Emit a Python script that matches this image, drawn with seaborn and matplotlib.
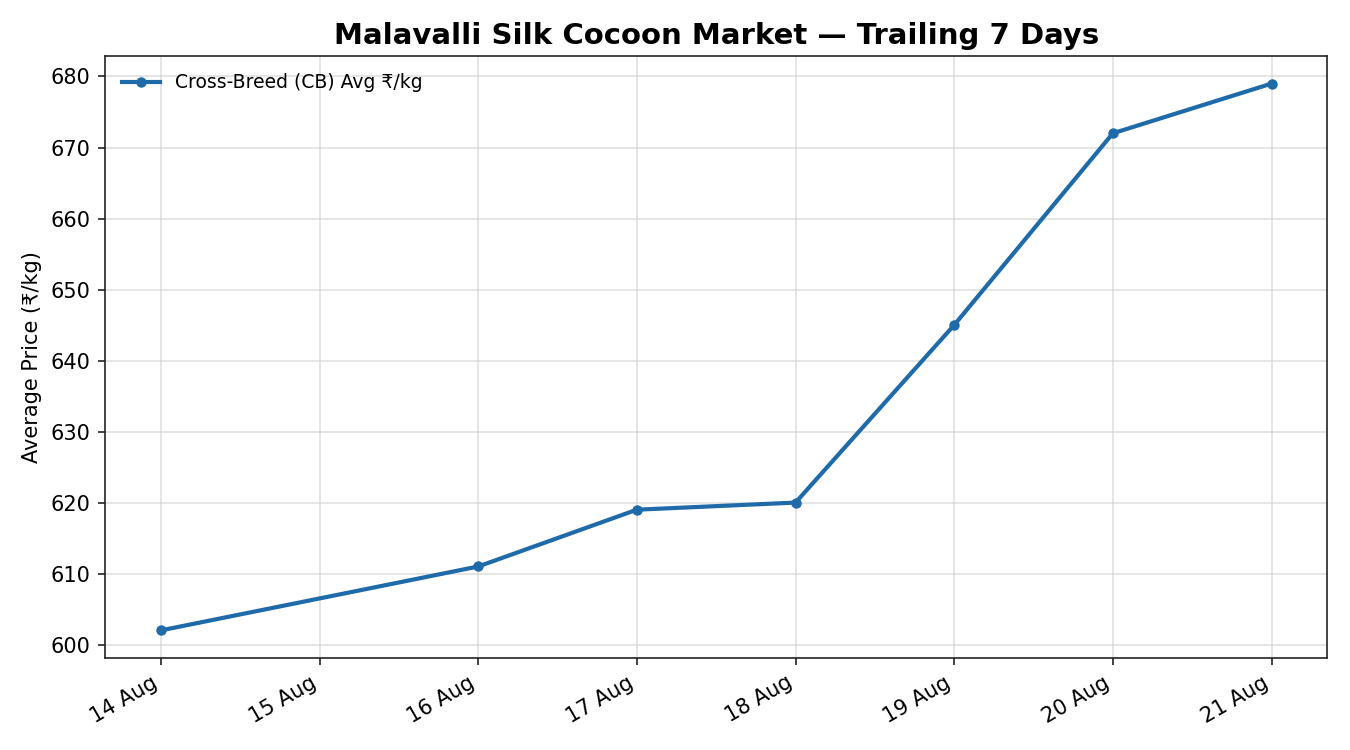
import matplotlib
matplotlib.use("Agg")
import matplotlib.dates as mdates
import pandas as pd
import seaborn as sns
from matplotlib import pyplot as plt

####################################
# data
####################################
dates = ["2024-08-14", "2024-08-16", "2024-08-17", "2024-08-18",
         "2024-08-19", "2024-08-20", "2024-08-21"]
cb_avg_price = [602, 611, 619, 620, 645, 672, 679]

df = pd.DataFrame({"date": pd.to_datetime(dates), "price": cb_avg_price})

####################################
# visualize
####################################
plt.rcParams["font.family"] = ["DejaVu Sans"]
plt.rcParams["axes.edgecolor"] = "#222222"

fig, ax = plt.subplots(figsize=(9, 5), dpi=150)

sns.lineplot(
    data=df,
    x="date",
    y="price",
    marker="o",
    markersize=5,
    markeredgewidth=0,
    linewidth=2,
    color="#1f6aa8",
    label="Cross-Breed (CB) Avg ₹/kg",
    ax=ax,
)

ax.set_title("Malavalli Silk Cocoon Market — Trailing 7 Days",
             fontsize=14, fontweight="bold", color="black")
ax.set_xlabel("")
ax.set_ylabel("Average Price (₹/kg)", fontsize=10, color="black")
ax.grid(True, color="#cccccc", linewidth=0.8, alpha=0.6)
ax.xaxis.set_major_locator(mdates.DayLocator())
ax.xaxis.set_major_formatter(mdates.DateFormatter("%d %b"))
ax.tick_params(labelsize=10, colors="black", color="#222222")
ax.legend(loc="upper left", frameon=False, fontsize=9)

fig.autofmt_xdate(rotation=30, ha="right")
fig.subplots_adjust(left=0.078, right=0.983, top=0.925, bottom=0.123)
fig.savefig("out.png")
